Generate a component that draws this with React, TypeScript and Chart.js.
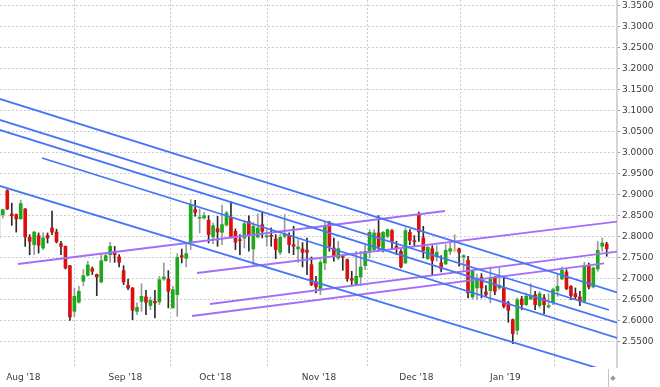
import React, { useEffect, useRef } from 'react';
import { Chart, registerables } from 'chart.js';

Chart.register(...registerables);

// ---- data (copper-style daily OHLC, index = trading day) ----
const opens = [
  2.7960, 2.8516, 2.9087, 2.8530, 2.8516, 2.8413, 2.8650, 2.7980, 2.7800, 2.8016,
  2.7720, 2.8020, 2.8200, 2.8100, 2.7825, 2.7760, 2.7300, 2.6214, 2.6430, 2.6930,
  2.7070, 2.7230, 2.7090, 2.6913, 2.7420, 2.7563, 2.7627, 2.7508, 2.7183, 2.6833,
  2.6770, 2.6214, 2.6452, 2.6556, 2.6350, 2.6452, 2.6437, 2.6984, 2.6984, 2.6294,
  2.6611, 2.7540, 2.7476, 2.7865, 2.8635, 2.8429, 2.8437, 2.8380, 2.7984, 2.8183,
  2.8095, 2.8270, 2.8452, 2.8119, 2.7920, 2.7960, 2.8357, 2.7698, 2.7984, 2.8278,
  2.7984, 2.8024, 2.7937, 2.7619, 2.8000, 2.8016, 2.7802, 2.7698, 2.7698, 2.7667,
  2.7325, 2.6913, 2.6746, 2.7365, 2.8317, 2.7722, 2.7484, 2.7548, 2.7444, 2.6992,
  2.6849, 2.7032, 2.7302, 2.7643, 2.7683, 2.8080, 2.7643, 2.8000, 2.8135, 2.7762,
  2.7643, 2.7365, 2.8095, 2.7897, 2.8516, 2.7960, 2.7468, 2.7706, 2.7508, 2.7365,
  2.7341, 2.7643, 2.7663, 2.7698, 2.7508, 2.7429, 2.6556, 2.6770, 2.7024, 2.6675,
  2.6706, 2.7024, 2.6770, 2.6770, 2.6413, 2.6016, 2.5762, 2.6508, 2.6373, 2.6508,
  2.6611, 2.6349, 2.6532, 2.6317, 2.6429, 2.6706, 2.6984, 2.7151, 2.6810, 2.6635,
  2.6556, 2.6452, 2.7302, 2.6794, 2.7222, 2.7762, 2.7817,
];
const highs = [
  2.8600, 2.8650, 2.9110, 2.8790, 2.8530, 2.8860, 2.8660, 2.8040, 2.8120, 2.8080,
  2.8080, 2.8080, 2.8600, 2.8170, 2.7880, 2.7770, 2.7310, 2.6770, 2.6810, 2.7210,
  2.7405, 2.7270, 2.7100, 2.7563, 2.7587, 2.7857, 2.7760, 2.7563, 2.7300, 2.6984,
  2.6780, 2.6413, 2.6873, 2.6714, 2.6556, 2.6714, 2.7048, 2.7365, 2.7183, 2.6810,
  2.7587, 2.7698, 2.7841, 2.8873, 2.8857, 2.8650, 2.8570, 2.8490, 2.8317, 2.8476,
  2.8746, 2.8595, 2.8825, 2.8175, 2.8040, 2.8380, 2.8490, 2.8333, 2.8532, 2.8595,
  2.8159, 2.8198, 2.8040, 2.8040, 2.8516, 2.8080, 2.8238, 2.7920, 2.7850, 2.7960,
  2.7508, 2.7048, 2.7444, 2.8357, 2.8357, 2.7960, 2.7881, 2.7563, 2.7460, 2.7167,
  2.7643, 2.7643, 2.7802, 2.8159, 2.8159, 2.8492, 2.8119, 2.8175, 2.8159, 2.7881,
  2.7683, 2.8198, 2.8159, 2.8016, 2.8579, 2.8238, 2.7762, 2.7778, 2.7778, 2.7540,
  2.7802, 2.7841, 2.8040, 2.7722, 2.7563, 2.7524, 2.7206, 2.7103, 2.7111, 2.6825,
  2.7270, 2.7048, 2.7246, 2.7048, 2.6452, 2.6032, 2.6532, 2.6571, 2.6651, 2.6873,
  2.6690, 2.6690, 2.6611, 2.6635, 2.6770, 2.7087, 2.7270, 2.7206, 2.6825, 2.6770,
  2.6690, 2.7381, 2.7365, 2.7270, 2.7881, 2.7960, 2.7857,
];
const lows = [
  2.7920, 2.8436, 2.8635, 2.8260, 2.8100, 2.8413, 2.7760, 2.7560, 2.7560, 2.7600,
  2.7680, 2.7840, 2.8040, 2.7840, 2.7560, 2.7220, 2.6000, 2.6090, 2.6410, 2.6825,
  2.7050, 2.7090, 2.6587, 2.6890, 2.7405, 2.7380, 2.7380, 2.7270, 2.6850, 2.6730,
  2.6016, 2.6135, 2.6214, 2.6135, 2.6254, 2.6056, 2.6373, 2.6952, 2.6294, 2.6290,
  2.6095, 2.7365, 2.7270, 2.7683, 2.8476, 2.8080, 2.8410, 2.7840, 2.7825, 2.7762,
  2.7800, 2.8238, 2.7960, 2.7683, 2.7563, 2.7722, 2.7643, 2.7325, 2.7960, 2.7960,
  2.7762, 2.7762, 2.7468, 2.7563, 2.7960, 2.7603, 2.7563, 2.7380, 2.7270, 2.7087,
  2.6825, 2.6650, 2.6611, 2.7206, 2.7643, 2.7405, 2.7444, 2.7190, 2.6929, 2.6825,
  2.6825, 2.6825, 2.7206, 2.7484, 2.7643, 2.7643, 2.7619, 2.7960, 2.7683, 2.7563,
  2.7246, 2.7349, 2.7800, 2.7762, 2.7880, 2.7484, 2.7444, 2.7071, 2.7405, 2.7151,
  2.7325, 2.7563, 2.7643, 2.7286, 2.7167, 2.6532, 2.6508, 2.6492, 2.6532, 2.6571,
  2.6413, 2.6611, 2.6730, 2.6294, 2.5952, 2.5444, 2.5659, 2.6254, 2.6349, 2.6492,
  2.6254, 2.6294, 2.6159, 2.6294, 2.6373, 2.6571, 2.6968, 2.6730, 2.6492, 2.6508,
  2.6349, 2.6413, 2.6746, 2.6770, 2.7167, 2.7643, 2.7524,
];
const closes = [
  2.8556, 2.8635, 2.8650, 2.8490, 2.8413, 2.8780, 2.7984, 2.7880, 2.8100, 2.7786,
  2.7960, 2.7960, 2.8100, 2.7870, 2.7760, 2.7246, 2.6080, 2.6570, 2.6690, 2.7063,
  2.7317, 2.7167, 2.7030, 2.7420, 2.7540, 2.7760, 2.7563, 2.7380, 2.6913, 2.6770,
  2.6238, 2.6310, 2.6570, 2.6430, 2.6476, 2.6413, 2.6968, 2.7032, 2.6690, 2.6730,
  2.7500, 2.7500, 2.7587, 2.8754, 2.8571, 2.8452, 2.8492, 2.8040, 2.8254, 2.8103,
  2.8278, 2.8556, 2.7984, 2.7857, 2.7897, 2.8300, 2.8040, 2.8238, 2.8198, 2.8119,
  2.8016, 2.8000, 2.7683, 2.7976, 2.8056, 2.7802, 2.7762, 2.7746, 2.7619, 2.7619,
  2.6849, 2.6794, 2.7381, 2.8238, 2.7762, 2.7540, 2.7706, 2.7508, 2.6992, 2.6952,
  2.7048, 2.7270, 2.7643, 2.8095, 2.8080, 2.7762, 2.8095, 2.8159, 2.7881, 2.7722,
  2.7270, 2.8135, 2.7905, 2.7873, 2.8103, 2.7659, 2.7738, 2.7421, 2.7619, 2.7222,
  2.7667, 2.7706, 2.7663, 2.7619, 2.7540, 2.6651, 2.7167, 2.6968, 2.6770, 2.6611,
  2.6992, 2.6690, 2.6825, 2.6333, 2.6238, 2.5683, 2.6492, 2.6373, 2.6571, 2.6595,
  2.6373, 2.6635, 2.6373, 2.6349, 2.6730, 2.6810, 2.7190, 2.6754, 2.6587, 2.6556,
  2.6452, 2.7302, 2.6794, 2.7246, 2.7667, 2.7841, 2.7706,
];

// month boundaries (trading-day index) and their labels
const monthTickPos = [5.58, 28.38, 48.5, 71.69, 93.44, 113.34, 135.47];
const monthTickLabels = ["Aug '18", "Sep '18", "Oct '18", "Nov '18", "Dec '18", "Jan '19", ''];

// price axis ticks
const priceTicks = [2.55, 2.6, 2.65, 2.7, 2.75, 2.8, 2.85, 2.9, 2.95, 3.0, 3.05, 3.1, 3.15, 3.2, 3.25, 3.3, 3.35];

// trend lines: [startIndex, startPrice, endIndex, endPrice]
const blueTrendLines = [
  [0, 3.1281, 138.3, 2.6662],
  [0, 3.0781, 136.5, 2.6245],
  [0, 3.0543, 138.3, 2.5943],
  [9.76, 2.9864, 138.3, 2.5579],
  [0, 2.921, 138.3, 2.4721],
];
const purpleTrendLines = [
  [4.39, 2.734, 99.85, 2.8602],
  [44.41, 2.7126, 138.3, 2.8348],
  [47.32, 2.6388, 138.3, 2.7633],
  [43.29, 2.6102, 135.4, 2.7357],
];

const X_MIN = 0.369;
const X_MAX = 138.3;
const Y_MIN = 2.4888;
const Y_MAX = 3.3626;

const GREEN = '#1caa1c';
const RED = '#dd1010';
const DOJI = '#e6d200';
const BLUE = '#4576f8';
const PURPLE = '#a46ef8';
const FONT = 'DejaVu Sans';

export default function App() {
  const ref = useRef<HTMLCanvasElement | null>(null);

  useEffect(() => {
    if (!ref.current) return;
    const idx = opens.map((_, i) => i);
    const bodyColors = idx.map((i) =>
      closes[i] > opens[i] ? GREEN : closes[i] < opens[i] ? RED : DOJI
    );
    const wickColors = idx.map((i) => (closes[i] >= opens[i] ? '#9a9a9a' : '#2a2a2a'));

    const lineDs = (l: number[], color: string) => ({
      type: 'line' as const,
      data: [
        { x: l[0], y: l[1] },
        { x: l[2], y: l[3] },
      ],
      borderColor: color,
      borderWidth: 1.8,
      pointRadius: 0,
      tension: 0,
      order: 1,
    });

    const cornerPlugin = {
      id: 'corner',
      afterDraw(chart: any) {
        const ctx = chart.ctx;
        const area = chart.chartArea;
        ctx.save();
        ctx.strokeStyle = '#c4c4c4';
        ctx.lineWidth = 1;
        ctx.beginPath();
        ctx.moveTo(area.right - 8.5, area.bottom + 2);
        ctx.lineTo(area.right - 8.5, chart.height);
        ctx.stroke();
        ctx.fillStyle = '#999';
        ctx.font = `7px ${FONT}`;
        ctx.textAlign = 'center';
        ctx.textBaseline = 'middle';
        ctx.fillText('\u25C6', area.right - 4, area.bottom + 11);
        ctx.restore();
      },
    };

    const chart = new Chart(ref.current, {
      type: 'bar',
      data: {
        datasets: [
          ...blueTrendLines.map((l) => lineDs(l, BLUE)),
          ...purpleTrendLines.map((l) => lineDs(l, PURPLE)),
          {
            type: 'bar',
            data: idx.map((i) => ({ x: i, y: [opens[i], closes[i]] })),
            backgroundColor: bodyColors,
            barThickness: 3,
            minBarLength: 1,
            grouped: false,
            order: 2,
          },
          {
            type: 'bar',
            data: idx.map((i) => ({ x: i, y: [lows[i], highs[i]] })),
            backgroundColor: wickColors,
            barThickness: 1,
            grouped: false,
            order: 3,
          },
        ] as any,
      },
      options: {
        animation: false,
        responsive: true,
        maintainAspectRatio: false,
        layout: { padding: 0 },
        plugins: { legend: { display: false }, tooltip: { enabled: false } },
        scales: {
          x: {
            type: 'linear',
            min: X_MIN,
            max: X_MAX,
            offset: false,
            bounds: 'data',
            afterBuildTicks: (s: any) => {
              s.ticks = monthTickPos.map((v) => ({ value: v }));
            },
            afterFit: (s: any) => {
              s.height = 20;
              s.paddingLeft = 0;
              s.paddingRight = 0;
            },
            ticks: {
              autoSkip: false,
              maxRotation: 0,
              minRotation: 0,
              padding: 5,
              color: '#3a3a3a',
              font: { family: FONT, size: 9 },
              callback: (_v: any, i: number) => monthTickLabels[i],
            },
            grid: { color: '#cccccc', lineWidth: 1, drawTicks: false },
            border: { display: false, dash: [2, 2] },
          },
          y: {
            type: 'linear',
            position: 'right',
            min: Y_MIN,
            max: Y_MAX,
            bounds: 'data',
            afterBuildTicks: (s: any) => {
              s.ticks = priceTicks.map((v) => ({ value: v }));
            },
            afterFit: (s: any) => {
              s.width = 43;
              s.paddingTop = 0;
              s.paddingBottom = 0;
            },
            ticks: {
              padding: 2,
              color: '#3a3a3a',
              font: { family: FONT, size: 9 },
              callback: (v: any) => Number(v).toFixed(4),
            },
            grid: { color: '#cccccc', lineWidth: 1, drawTicks: true, tickLength: 3, tickColor: '#999' },
            border: { display: true, color: '#d4d4d4', width: 2, dash: [2, 2] },
          },
        },
      } as any,
      plugins: [cornerPlugin],
    });
    return () => chart.destroy();
  }, []);

  return (
    <div style={{ position: 'fixed', left: 0, top: 0, width: 660, height: 387, background: '#fff' }}>
      <canvas ref={ref} />
    </div>
  );
}
